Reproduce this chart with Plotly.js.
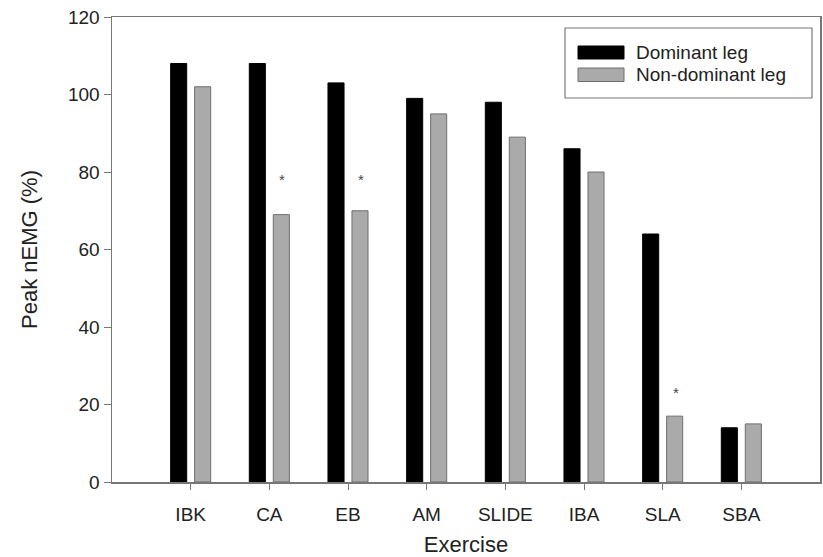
<!DOCTYPE html>
<html>
<head>
<meta charset="utf-8">
<script src="https://cdn.plot.ly/plotly-3.0.1.min.js"></script>
<style>html,body{margin:0;padding:0;background:#fff;}#chart{width:823px;height:557px;}</style>
</head>
<body>
<div id="chart"></div>
<script>
const exercises = ["IBK", "CA", "EB", "AM", "SLIDE", "IBA", "SLA", "SBA"];
const dominant = [108, 108, 103, 99, 98, 86, 64, 14];
const nonDominant = [102, 69, 70, 95, 89, 80, 17, 15];
const significant = [false, true, true, false, false, false, true, false];
const starLevel = [null, 78, 78, null, null, null, 23, null];
const seriesNames = ["Dominant leg", "Non-dominant leg"];
const yTicks = [0, 20, 40, 60, 80, 100, 120];

const FONT = "Liberation Sans, Arial, sans-serif";
const TXT = "#222";

const traces = [
  {type: "bar", name: seriesNames[0], y: dominant,
   marker: {color: "#000000", line: {color: "#000000", width: 1}}, showlegend: false},
  {type: "bar", name: seriesNames[1], y: nonDominant,
   marker: {color: "#aaaaaa", line: {color: "#6e6e6e", width: 1}}, showlegend: false}
];

const annotations = [];
exercises.forEach((c, i) => {
  if (significant[i]) {
    annotations.push({x: i, xref: "x", y: starLevel[i], yref: "y", xshift: 13,
      text: "*", showarrow: false, font: {family: FONT, size: 15, color: "#444"},
      xanchor: "center", yanchor: "middle"});
  }
});

// legend (paper coordinates)
const px = v => (v - 112) / 708;
const py = v => (482 - v) / 465;
const shapes = [
  {type: "rect", xref: "paper", yref: "paper", x0: px(565), x1: px(812), y0: py(98), y1: py(28),
   line: {color: "#777", width: 1.2}, fillcolor: "#fff"},
  {type: "rect", xref: "paper", yref: "paper", x0: px(578), x1: px(624), y0: py(59), y1: py(46),
   line: {color: "#000", width: 1}, fillcolor: "#000"},
  {type: "rect", xref: "paper", yref: "paper", x0: px(578), x1: px(624), y0: py(81.5), y1: py(68),
   line: {color: "#6e6e6e", width: 1}, fillcolor: "#aaaaaa"}
];
annotations.push(
  {xref: "paper", yref: "paper", x: px(634), y: py(52.5), text: seriesNames[0], showarrow: false,
   xanchor: "left", yanchor: "middle", font: {family: FONT, size: 19, color: TXT}},
  {xref: "paper", yref: "paper", x: px(634), y: py(74.5), text: seriesNames[1], showarrow: false,
   xanchor: "left", yanchor: "middle", font: {family: FONT, size: 19, color: TXT}}
);

const layout = {
  width: 823, height: 557,
  margin: {l: 112, r: 3, t: 17, b: 75},
  paper_bgcolor: "#fff", plot_bgcolor: "#fff",
  barmode: "group", bargap: 0.39, bargroupgap: 0.33,
  showlegend: false,
  font: {family: FONT, color: TXT},
  xaxis: {
    range: [-1, 8], tickmode: "array", tickvals: exercises.map((c, i) => i), ticktext: exercises,
    type: "linear",
    showline: true, linecolor: "#777", linewidth: 1.5, mirror: true,
    ticks: "outside", ticklen: 6, tickcolor: "#777", tickwidth: 1,
    ticklabelstandoff: 9,
    showgrid: false, zeroline: false,
    tickfont: {family: FONT, size: 19, color: TXT},
    title: {text: "Exercise", font: {family: FONT, size: 22, color: TXT}, standoff: 14}
  },
  yaxis: {
    range: [0, 120], tickvals: yTicks,
    showline: true, linecolor: "#777", linewidth: 1.5, mirror: true,
    ticks: "outside", ticklen: 7, tickcolor: "#777", tickwidth: 1,
    showgrid: false, zeroline: false,
    tickfont: {family: FONT, size: 19, color: TXT},
    title: {text: "Peak nEMG (%)", font: {family: FONT, size: 22, color: TXT}, standoff: 24}
  },
  shapes: shapes,
  annotations: annotations
};

traces.forEach(t => { t.x = exercises.map((c, i) => i); });
Plotly.newPlot("chart", traces, layout, {displayModeBar: false, staticPlot: true});
</script>
</body>
</html>
